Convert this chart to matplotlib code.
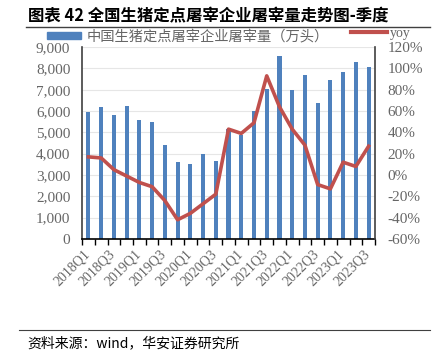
import matplotlib.pyplot as plt
from matplotlib.ticker import FuncFormatter, MultipleLocator
from matplotlib.lines import Line2D
from matplotlib.patches import Patch

plt.rcParams['font.family'] = ['Noto Sans CJK SC', 'DejaVu Sans']

quarters = ["2018Q1", "2018Q2", "2018Q3", "2018Q4",
            "2019Q1", "2019Q2", "2019Q3", "2019Q4",
            "2020Q1", "2020Q2", "2020Q3", "2020Q4",
            "2021Q1", "2021Q2", "2021Q3", "2021Q4",
            "2022Q1", "2022Q2", "2022Q3", "2022Q4",
            "2023Q1", "2023Q2", "2023Q3"]
slaughter = [5950, 6200, 5830, 6230, 5580, 5500, 4420, 3590, 3500, 4000,
             3640, 5170, 4890, 6000, 7030, 8560, 6980, 7670, 6390, 7450,
             7810, 8310, 8080]
yoy = [17, 16, 5, -1, -7, -11, -24, -42, -36, -27, -18, 43, 39, 49,
       93, 64, 43, 28, -9, -13, 12, 8, 27]

BLUE = "#4F81BD"
RED = "#C0504D"
GRAY = "#666666"
SERIF = "Liberation Serif"

fig = plt.figure(figsize=(4.32, 3.54), dpi=100)
ax = fig.add_axes([0.19, 0.325, 0.678, 0.542])
ax2 = ax.twinx()

x = list(range(len(quarters)))
ax.bar(x, slaughter, width=0.32, color=BLUE, zorder=2)
ax2.plot(x, yoy, color=RED, linewidth=2.6, zorder=3)

ax.set_xlim(-0.5, len(quarters) - 0.5)
ax.set_ylim(0, 9000)
ax.yaxis.set_major_locator(MultipleLocator(1000))
ax.yaxis.set_major_formatter(FuncFormatter(lambda v, p: f"{int(v):,}"))
ax2.set_ylim(-60, 120)
ax2.yaxis.set_major_locator(MultipleLocator(20))
ax2.yaxis.set_major_formatter(FuncFormatter(lambda v, p: f"{int(v)}%"))

ax.grid(axis="y", color="#E6E6E6", linewidth=0.8, zorder=0)
ax.set_axisbelow(True)

# category boundary ticks, labels every two quarters
ax.set_xticks([i - 0.5 for i in range(len(quarters) + 1)])
ax.set_xticklabels([""] * (len(quarters) + 1))
ax.tick_params(axis="x", direction="out", length=4, width=1, color="black")
for i in range(0, len(quarters), 2):
    ax.text(i + 0.3, -400, quarters[i], rotation=45, ha="right", va="top",
            fontsize=10, color=GRAY, family=SERIF)

for a in (ax, ax2):
    for s in a.spines.values():
        s.set_visible(False)
ax.spines["left"].set_visible(True)
ax.spines["left"].set_color("#404040")
ax.spines["left"].set_linewidth(1.2)
ax.spines["bottom"].set_visible(True)
ax.spines["bottom"].set_color("black")
ax.spines["bottom"].set_linewidth(1.2)
ax2.spines["right"].set_visible(True)
ax2.spines["right"].set_color("#404040")
ax2.spines["right"].set_linewidth(1.2)

ax.tick_params(axis="y", length=0, labelsize=11, labelcolor=GRAY, pad=8.5)
ax2.tick_params(axis="y", length=0, labelsize=11, labelcolor=GRAY, pad=9)
for lab in ax.get_yticklabels() + ax2.get_yticklabels():
    lab.set_family(SERIF)

fig.legend([Patch(color=BLUE)], ["中国生猪定点屠宰企业屠宰量（万头）"],
           loc="center left", bbox_to_anchor=(0.095, 0.897), frameon=False,
           fontsize=10.3, labelcolor=GRAY, handlelength=2.4, handleheight=0.4,
           handletextpad=0.4, borderaxespad=0)
fig.legend([Line2D([], [], color=RED, linewidth=3)], ["yoy"],
           loc="center left", bbox_to_anchor=(0.8, 0.905), frameon=False,
           handlelength=2.6, handletextpad=0.2, borderaxespad=0,
           prop={"family": SERIF, "size": 10}, labelcolor=GRAY)

fig.text(0.065, 0.955, "图表 42 全国生猪定点屠宰企业屠宰量走势图-季度",
         fontsize=11.8, fontweight="bold", ha="left", va="center")
fig.add_artist(Line2D([0.06, 0.995], [0.923, 0.923], color="#404040",
                      linewidth=1.0))
fig.add_artist(Line2D([0.045, 0.995], [0.068, 0.068], color="#404040",
                      linewidth=0.8))
fig.text(0.063, 0.031, "资料来源：wind，华安证券研究所", fontsize=10,
         ha="left", va="center")

fig.savefig("out.png", dpi=100)
